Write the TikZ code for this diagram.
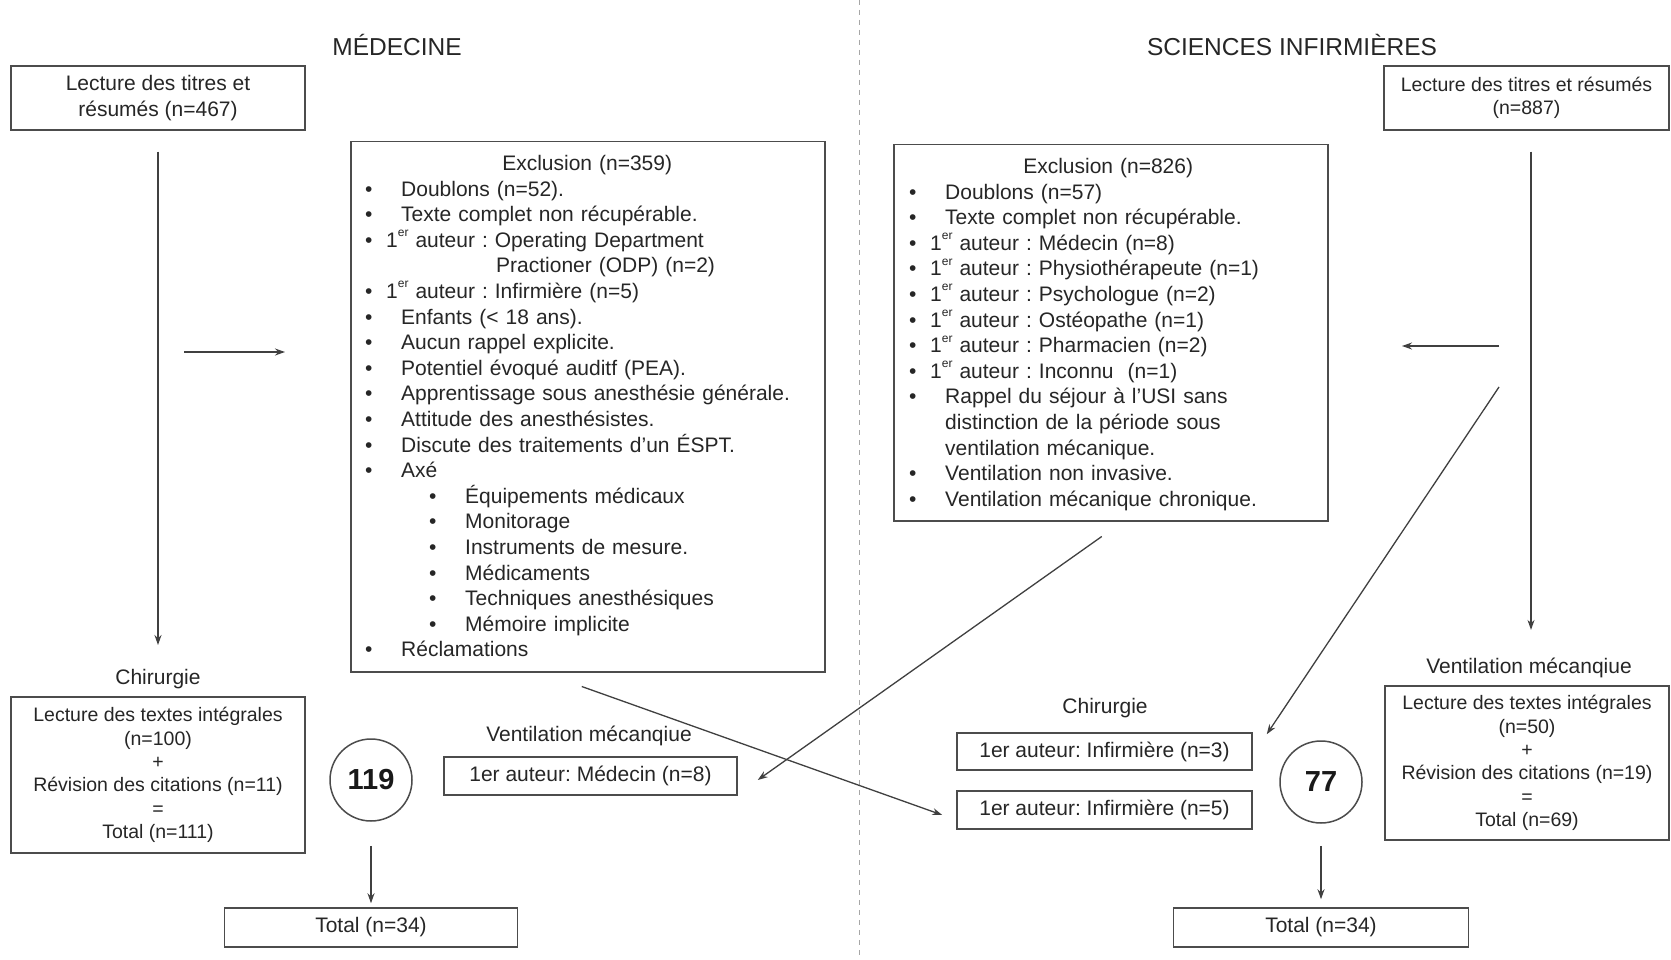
\documentclass[tikz,border=0pt]{standalone}
\usepackage{fontspec}
\setmainfont{Liberation Sans}
\usetikzlibrary{arrows.meta}
\frenchspacing
\newcommand\bA[1]{\makebox[0pt][l]{\textbullet}\hspace*{36pt}#1}
\newcommand\bB[1]{\makebox[0pt][l]{\textbullet}\hspace*{21pt}#1}
\newcommand\bC[1]{\hspace*{64pt}\makebox[0pt][l]{\textbullet}\hspace*{36pt}#1}
\newcommand\ier{1\raisebox{0.5em}{\fontsize{12}{12}\selectfont er}}
\begin{document}
\begin{tikzpicture}[x=1pt,y=-1pt,
  bx/.style={draw=black!70, line width=1.5pt, inner sep=0pt, align=center, text=black!85},
  fbig/.style={font=\fontsize{21}{25.6}\selectfont\frenchspacing},
  fsml/.style={font=\fontsize{19.5}{23.4}\selectfont\frenchspacing},
  ftit/.style={font=\fontsize{24.5}{28}\selectfont},
  lbl/.style={inner sep=0pt, text=black!85},
  lst/.style={inner sep=0pt, anchor=north west, align=left, text=black!85, font=\fontsize{21}{25.6}\selectfont\frenchspacing},
  arr/.style={-{Stealth[length=10pt,width=7pt]}, line width=1.3pt, draw=black!75},
  circ/.style={circle, draw=black!70, line width=1.5pt, minimum size=82pt, inner sep=0pt, text=black!90, font=\fontsize{29}{30}\selectfont\bfseries}
]
\useasboundingbox[fill=white] (0,0) rectangle (1671,960);

% separator
\coordinate (sepT) at (859,0);
\coordinate (sepB) at (859,960);
\draw[black!35, line width=1pt, dash pattern=on 5pt off 5pt] (sepT) -- (sepB);

% titles
\node[lbl, ftit] (titL) at (397,45) {MÉDECINE};
\node[lbl, ftit] (titR) at (1292,45) {SCIENCES INFIRMIÈRES};

% ---------- left side ----------
\node[bx, fbig, minimum width=294pt, minimum height=64pt] (boxA) at (158,98)
  {Lecture des titres et\\résumés (n=467)};

\node[bx, minimum width=474pt, minimum height=530pt, anchor=north west] (exclA) at (350,141) {};
\node[lst, text width=444pt] (exclAtxt) at (365,155) {%
\makebox[444pt][c]{Exclusion (n=359)}\\
\bA{Doublons (n=52).}\\
\bA{Texte complet non récupérable.}\\
\bB{\ier{} auteur : Operating Department}\\
\hspace*{131pt}Practioner (ODP) (n=2)\\
\bB{\ier{} auteur : Infirmière (n=5)}\\
\bA{Enfants (< 18 ans).}\\
\bA{Aucun rappel explicite.}\\
\bA{Potentiel évoqué auditf (PEA).}\\
\bA{Apprentissage sous anesthésie générale.}\\
\bA{Attitude des anesthésistes.}\\
\bA{Discute des traitements d’un ÉSPT.}\\
\bA{Axé}\\
\bC{Équipements médicaux}\\
\bC{Monitorage}\\
\bC{Instruments de mesure.}\\
\bC{Médicaments}\\
\bC{Techniques anesthésiques}\\
\bC{Mémoire implicite}\\
\bA{Réclamations}};

\node[lbl, fbig] (labChirL) at (158,679) {Chirurgie};
\node[bx, fsml, minimum width=294pt, minimum height=156pt] (chirL) at (158,775)
  {Lecture des textes intégrales\\(n=100)\\+\\Révision des citations (n=11)\\=\\Total (n=111)};

\node[circ] (c119) at (371,780) {119};
\node[bx, fbig, minimum width=293pt, minimum height=39pt] (totL) at (371,927.5) {Total (n=34)};

\node[lbl, fbig] (labVentL) at (589,736) {Ventilation mécanqiue};
\node[bx, fbig, minimum width=293pt, minimum height=38pt] (med8) at (590.5,776) {1er auteur: Médecin (n=8)};

% ---------- right side ----------
\node[bx, fsml, minimum width=285pt, minimum height=64pt] (boxR) at (1526.5,98)
  {Lecture des titres et résumés\\(n=887)};

\node[bx, minimum width=434pt, minimum height=376pt, anchor=north west] (exclB) at (893,144) {};
\node[lst, text width=398pt] (exclBtxt) at (909,158) {%
\makebox[398pt][c]{Exclusion (n=826)}\\
\bA{Doublons (n=57)}\\
\bA{Texte complet non récupérable.}\\
\bB{\ier{} auteur : Médecin (n=8)}\\
\bB{\ier{} auteur : Physiothérapeute (n=1)}\\
\bB{\ier{} auteur : Psychologue (n=2)}\\
\bB{\ier{} auteur : Ostéopathe (n=1)}\\
\bB{\ier{} auteur : Pharmacien (n=2)}\\
\bB{\ier{} auteur : Inconnu\ \ (n=1)}\\
\bA{Rappel du séjour à l’USI sans}\\
\hspace*{36pt}distinction de la période sous\\
\hspace*{36pt}ventilation mécanique.\\
\bA{Ventilation non invasive.}\\
\bA{Ventilation mécanique chronique.}};

\node[lbl, fbig] (labChirR) at (1105,708) {Chirurgie};
\node[bx, fbig, minimum width=295pt, minimum height=37pt] (inf3) at (1104.5,751.5) {1er auteur: Infirmière (n=3)};
\node[bx, fbig, minimum width=295pt, minimum height=38pt] (inf5) at (1104.5,810) {1er auteur: Infirmière (n=5)};

\node[circ] (c77) at (1321,782) {77};
\node[bx, fbig, minimum width=295pt, minimum height=39pt] (totR) at (1321,927.5) {Total (n=34)};

\node[lbl, fbig] (labVentR) at (1529,668) {Ventilation mécanqiue};
\node[bx, fsml, minimum width=284pt, minimum height=154pt] (ventR) at (1527,763)
  {Lecture des textes intégrales\\(n=50)\\+\\Révision des citations (n=19)\\=\\Total (n=69)};

% ---------- connectors ----------
\draw[arr, shorten <=21pt, shorten >=24pt] (boxA.south) -- (labChirL.north);
\coordinate (hAs) at (184,352);
\coordinate (hAe) at (285,352);
\draw[arr] (hAs) -- (hAe);

\draw[arr, shorten <=21pt, shorten >=28pt] ([xshift=4.5pt]boxR.south) -- ([xshift=2pt]labVentR.north);
\coordinate (hBs) at (1499,346);
\coordinate (hBe) at (1402,346);
\draw[arr] (hBs) -- (hBe);
\coordinate (dBs) at (1499,387);
\draw[arr] (dBs) -- ([xshift=14pt,yshift=-2pt]inf3.north east);

\draw[arr] ([xshift=-9pt,yshift=-15pt]exclB.south) -- ([xshift=20pt,yshift=-4pt]med8.east);
\draw[arr] ([xshift=-6pt,yshift=-14pt]exclA.south) -- ([xshift=-14pt,yshift=-5pt]inf5.west);

\draw[arr, shorten <=24pt, shorten >=4pt] (c119.south) -- (totL.north);
\draw[arr, shorten <=22pt, shorten >=8pt] (c77.south) -- (totR.north);
\end{tikzpicture}
\end{document}
